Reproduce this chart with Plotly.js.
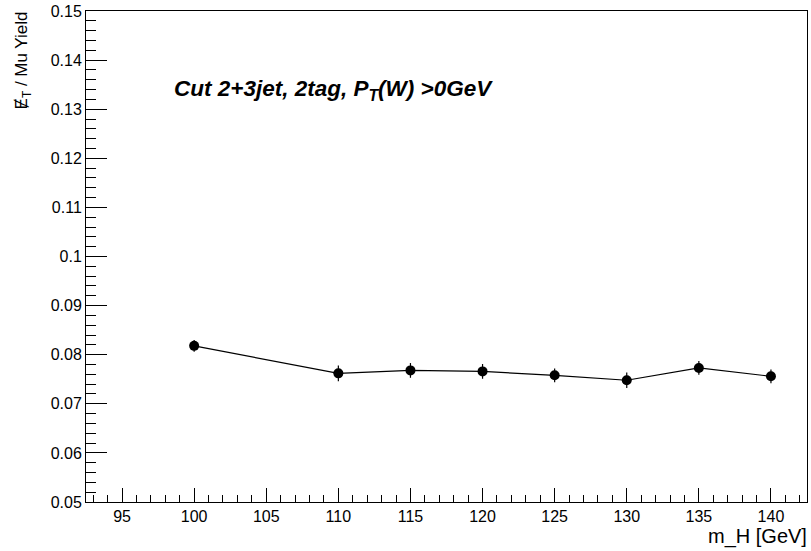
<!DOCTYPE html>
<html>
<head>
<meta charset="utf-8">
<script src="https://cdn.plot.ly/plotly-3.0.1.min.js"></script>
<style>html,body{margin:0;padding:0;background:#fff;}#plot{width:811px;height:551px;}</style>
</head>
<body>
<div id="plot"></div>
<script>
const massPoints = [100, 110, 115, 120, 125, 130, 135, 140];
const yieldRatio = [0.0818, 0.0762, 0.0768, 0.0766, 0.0758, 0.0748, 0.0773, 0.0756];
const yieldError = [0.0012, 0.0016, 0.0015, 0.0015, 0.0014, 0.0016, 0.0014, 0.0014];
const headerText = "Cut 2+3jet, 2tag, P<sub>T</sub>(W) >0GeV";
const xTitleText = "m_H [GeV]";
const yTitleText = "\u0246<sub>T</sub> / Mu Yield";

const FONT = "Liberation Sans, Arial, Helvetica, sans-serif";

const trace = {
  x: massPoints,
  y: yieldRatio,
  type: "scatter",
  mode: "lines+markers",
  line: {color: "#000", width: 1.2},
  marker: {color: "#000", size: 10, symbol: "circle"},
  error_y: {type: "data", array: yieldError, visible: true, color: "#000", thickness: 1.2, width: 0},
  hoverinfo: "x+y"
};

const layout = {
  width: 811, height: 551,
  margin: {l: 86, r: 4, t: 11, b: 49},
  paper_bgcolor: "#fff", plot_bgcolor: "#fff",
  showlegend: false,
  font: {family: FONT, color: "#000", size: 16},
  xaxis: {
    range: [92.5, 142.5], dtick: 5, tick0: 95,
    ticks: "inside", ticklen: 14, tickwidth: 1, tickcolor: "#000",
    minor: {ticks: "inside", dtick: 1, ticklen: 7, tickwidth: 1, tickcolor: "#000", showgrid: false},
    showline: true, linecolor: "#000", linewidth: 1, mirror: true,
    showgrid: false, zeroline: false,
    tickfont: {family: FONT, size: 16, color: "#000"}
  },
  yaxis: {
    range: [0.05, 0.15], dtick: 0.01, tick0: 0.05,
    ticks: "inside", ticklen: 21, tickwidth: 1, tickcolor: "#000",
    minor: {ticks: "inside", dtick: 0.002, ticklen: 10, tickwidth: 1, tickcolor: "#000", showgrid: false},
    showline: true, linecolor: "#000", linewidth: 1, mirror: true,
    showgrid: false, zeroline: false,
    tickfont: {family: FONT, size: 16, color: "#000"}
  },
  annotations: [
    {text: "<b><i>" + headerText + "</i></b>", xref: "paper", yref: "paper",
     x: 0.119, y: 0.84, xanchor: "left", yanchor: "middle", showarrow: false,
     font: {family: FONT, size: 22.5, color: "#000"}},
    {text: xTitleText, xref: "paper", yref: "paper",
     x: 1.003, y: -0.0704, xanchor: "right", yanchor: "middle", showarrow: false,
     font: {family: FONT, size: 20, color: "#000"}},
    {text: yTitleText, xref: "paper", yref: "paper", textangle: -90,
     x: -0.0875, y: 1.003, xanchor: "center", yanchor: "top", showarrow: false,
     font: {family: FONT, size: 17, color: "#000"}}
  ]
};

Plotly.newPlot("plot", [trace], layout, {displayModeBar: false, staticPlot: true});
</script>
</body>
</html>
